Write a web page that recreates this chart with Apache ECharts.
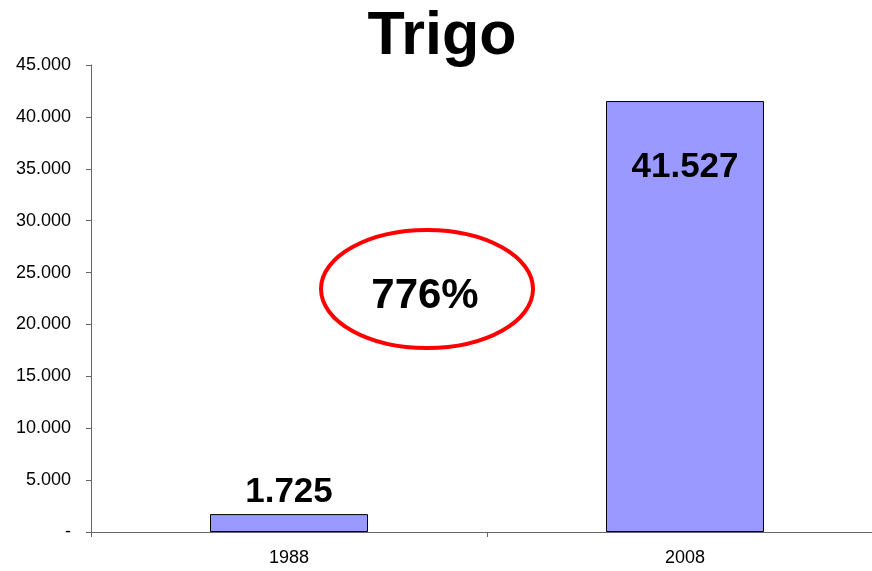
<!DOCTYPE html>
<html>
<head>
<meta charset="utf-8">
<script src="https://cdn.jsdelivr.net/npm/echarts@6/dist/echarts.min.js"></script>
<style>
  html, body { margin: 0; padding: 0; background: #fff; overflow: hidden; }
  /* the x axis runs past the right edge of the window, as in the original */
  #chart { width: 884px; height: 571px; }
</style>
</head>
<body>
<div id="chart"></div>
<script>
// Trigo: production 1988 vs 2008
var years = ['1988', '2008'];
var values = [1725, 41527];
var growthLabel = '776%';

(function() {
  var font = '"Liberation Sans", Arial, sans-serif';

  function fmt(v) {
    if (v === 0) return '-';
    return String(Math.round(v)).replace(/\B(?=(\d{3})+(?!\d))/g, '.');
  }

  var chart = echarts.init(document.getElementById('chart'), null, { renderer: 'canvas' });
  chart.setOption({
    animation: false,
    title: {
      text: 'Trigo',
      left: 'center',
      top: 2,
      textStyle: { fontFamily: font, fontSize: 61, fontWeight: 'bold', color: '#000' }
    },
    grid: { left: 91, top: 65, right: 1, bottom: 39 },
    xAxis: {
      type: 'category',
      data: years,
      axisLine: { lineStyle: { color: '#666', width: 1 } },
      axisTick: { show: true, length: 5, lineStyle: { color: '#666' } },
      axisLabel: { color: '#000', fontFamily: font, fontSize: 18, margin: 17 }
    },
    yAxis: {
      type: 'value',
      min: 0,
      max: 45000,
      interval: 5000,
      axisLine: { show: true, lineStyle: { color: '#666', width: 1 } },
      axisTick: { show: true, length: 5, lineStyle: { color: '#666' } },
      splitLine: { show: false },
      axisLabel: { color: '#000', fontFamily: font, fontSize: 18, margin: 20, formatter: fmt }
    },
    series: [{
      type: 'bar',
      barWidth: 158,
      data: [
        { value: values[0], label: { position: 'top', distance: 4 } },
        { value: values[1], label: { position: 'insideTop', distance: 49 } }
      ],
      itemStyle: { color: '#9999FF', borderColor: '#000', borderWidth: 1 },
      label: {
        show: true,
        color: '#000',
        fontFamily: font,
        fontSize: 35,
        fontWeight: 'bold',
        formatter: function(p) { return fmt(p.value); }
      }
    }],
    graphic: [
      {
        type: 'ellipse',
        shape: { cx: 427, cy: 289, rx: 106, ry: 59 },
        style: { fill: 'none', stroke: '#FF0000', lineWidth: 4 }
      },
      {
        type: 'text',
        x: 425,
        y: 296,
        style: {
          text: growthLabel,
          fill: '#000',
          font: 'bold 42px ' + font,
          textAlign: 'center',
          textVerticalAlign: 'middle'
        }
      }
    ]
  });
})();
</script>
</body>
</html>
